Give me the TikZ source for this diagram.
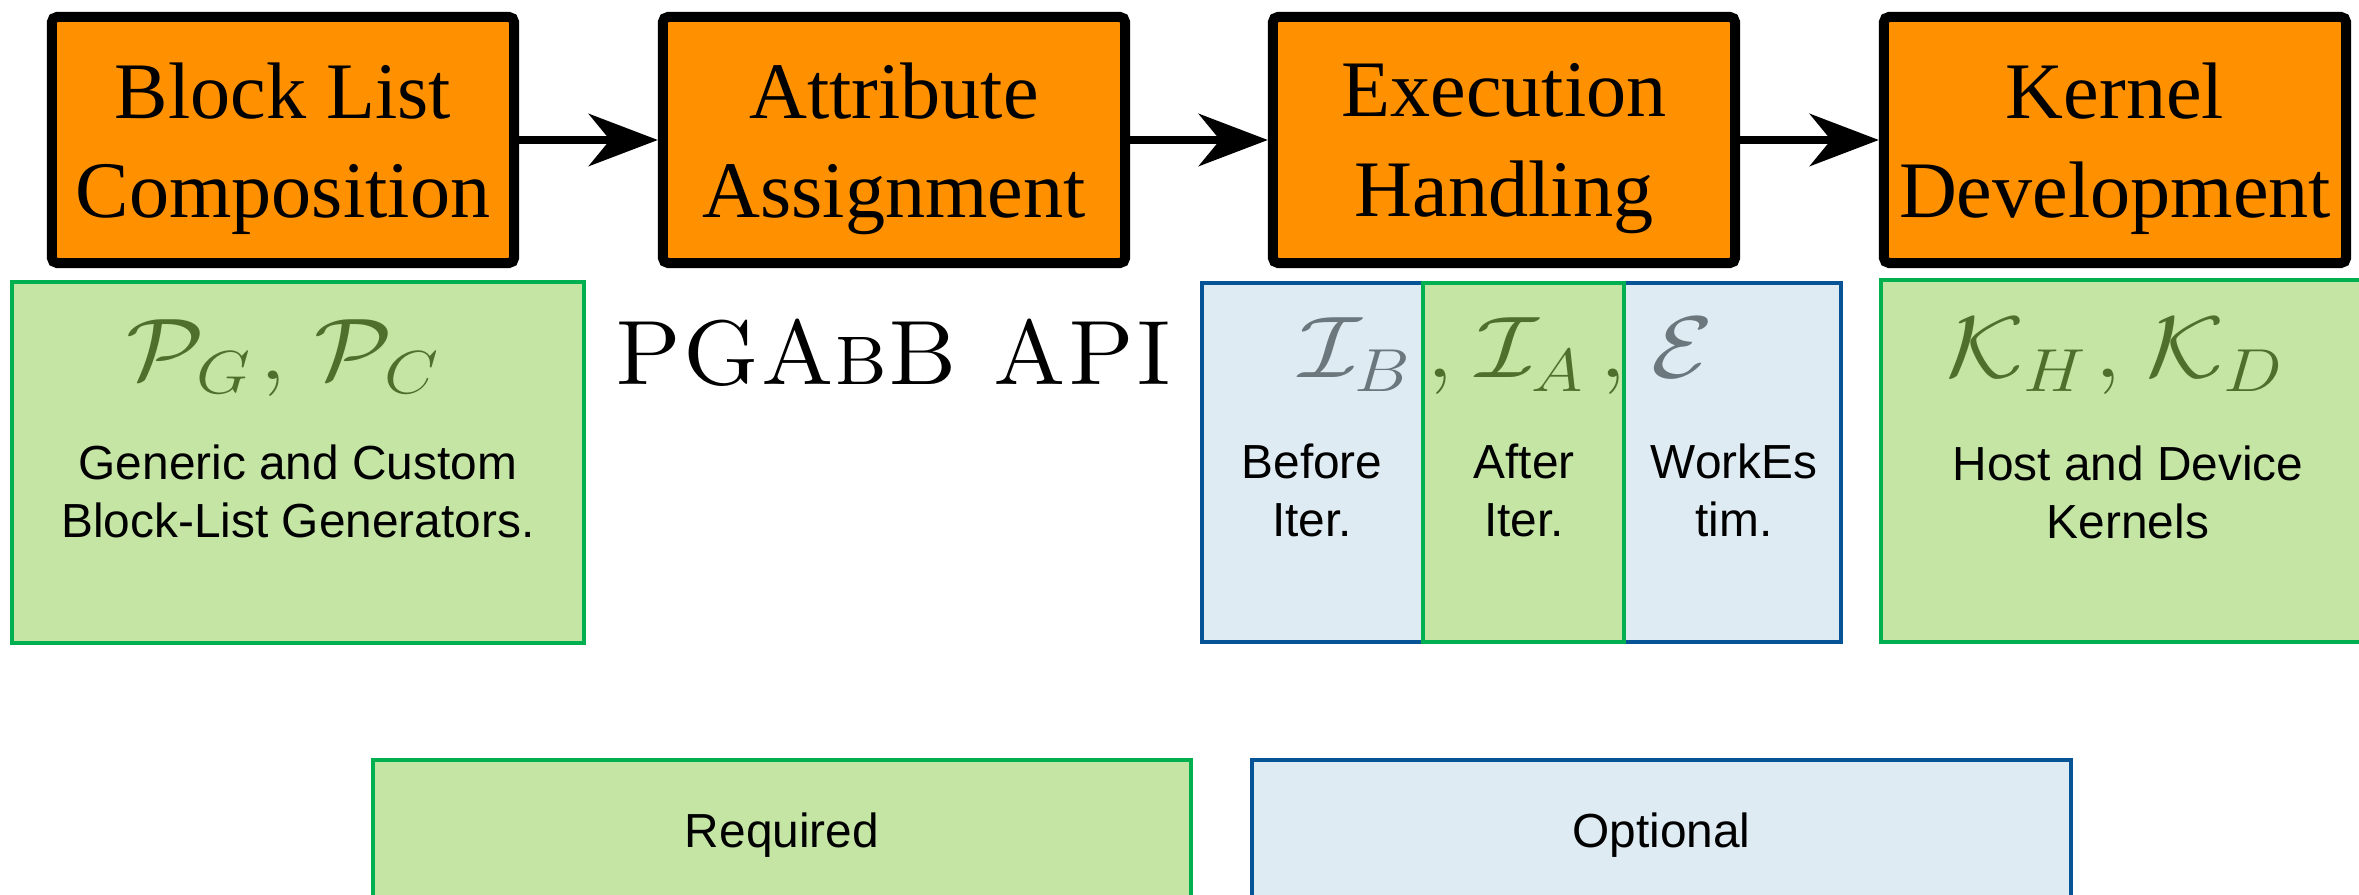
\documentclass[tikz,border=0pt]{standalone}
\usepackage{graphicx}
\usepackage{fontspec}
\newfontfamily\serifstage{Liberation Serif}
\newfontfamily\sanslabel{Liberation Sans}
\usetikzlibrary{arrows.meta}

\definecolor{stageorange}{RGB}{255,145,0}
\definecolor{reqfill}{RGB}{197,229,165}
\definecolor{reqborder}{RGB}{0,176,80}
\definecolor{optfill}{RGB}{223,235,243}
\definecolor{optborder}{RGB}{6,84,150}
\definecolor{mathgreen}{RGB}{79,112,45}
\definecolor{mathgrey}{RGB}{108,119,125}

% symbols are set slightly wide
\newcommand{\widesym}[1]{\scalebox{1.15}[1]{$#1$}}

\tikzset{
  stage/.style={draw=black, line width=2.85pt, fill=stageorange, rounded corners=1.5pt,
    minimum width=4.62cm, minimum height=2.46cm, inner sep=0pt, align=center,
    text depth=0pt, font=\serifstage\fontsize{22.8pt}{28.2pt}\selectfont},
  flow/.style={line width=2.5pt, -{Stealth[length=19.6pt, width=14.8pt, inset=6pt]}},
  panel/.style={line width=1.14pt, inner sep=0pt, outer sep=0pt},
  reqpanel/.style={panel, draw=reqborder, fill=reqfill},
  optpanel/.style={panel, draw=optborder, fill=optfill},
  labeltext/.style={align=center, inner sep=0pt,
    font=\sanslabel\fontsize{13.6pt}{16.5pt}\selectfont},
  mathtext/.style={inner sep=0pt, anchor=base west, font=\fontsize{27pt}{31pt}\selectfont},
  reqsym/.style={mathtext, text=mathgreen},
  optsym/.style={mathtext, text=mathgrey},
}

\begin{document}
\begin{tikzpicture}[x=0.01cm, y=-0.01cm]
  \useasboundingbox (0,0) rectangle (2359,895);
  \clip (0,0) rectangle (2359,895);

  % pipeline stages
  \node[stage] (s1) at (283,140)  {Block List\\Composition};
  \node[stage] (s2) at (894,140)  {Attribute\\Assignment};
  \node[stage] (s3) at (1504,140) {Execution\\Handling};
  \node[stage] (s4) at (2115,140) {Kernel\\Development};

  \draw[flow] (s1) -- (s2);
  \draw[flow] (s2) -- (s3);
  \draw[flow] (s3) -- (s4);

  % panels under the stages
  \node[reqpanel, minimum width=5.72cm, minimum height=3.61cm] (pgen) at (298,462.5) {};
  \node[optpanel, minimum width=2.21cm, minimum height=3.59cm] (before) at (1312.5,462.5) {};
  \node[optpanel, minimum width=2.17cm, minimum height=3.59cm] (workes) at (1732.5,462.5) {};
  \node[reqpanel, minimum width=2.01cm, minimum height=3.59cm] (after) at (1523.5,462.5) {};
  \node[reqpanel, minimum width=5.20cm, minimum height=3.62cm] (kern) at (2141,461) {};

  % symbols
  \node[reqsym] (pg) at (126,380) {\widesym{\mathcal{P}_G}};
  \node[reqsym] (pc1) at (259,380) {\widesym{,}};
  \node[reqsym] (pc) at (314,380) {\widesym{\mathcal{P}_C}};

  \node[optsym] (ib) at (1299,378) {\widesym{\mathcal{I}_B}};
  \node[reqsym] (c1) at (1426,378) {\widesym{,}};
  \node[reqsym] (ia) at (1476,378) {\widesym{\mathcal{I}_A}};
  \node[reqsym] (c2) at (1599,378) {\widesym{,}};
  \node[optsym] (ee) at (1651,378) {\widesym{\mathcal{E}}};

  \node[reqsym] (kh) at (1946,378) {\widesym{\mathcal{K}_H}};
  \node[reqsym] (kc) at (2094,378) {\widesym{,}};
  \node[reqsym] (kd) at (2146,378) {\widesym{\mathcal{K}_D}};

  \node[mathtext] (api) at (614,385) {\fontsize{26pt}{30pt}\selectfont\textsc{PGAbB API}};

  % panel descriptions
  \node[labeltext, anchor=base] (gentext) at (298,538) {Generic and Custom\\Block-List Generators.};
  \node[labeltext, anchor=base] (beftext) at (1312,537) {Before\\Iter.};
  \node[labeltext, anchor=base] (afttext) at (1524,537) {After\\Iter.};
  \node[labeltext, anchor=base] (wrktext) at (1734,537) {WorkEs\\tim.};
  \node[labeltext, anchor=base] (kertext) at (2128,539) {Host and Device\\Kernels};

  % legend
  \node[reqpanel, minimum width=8.18cm, minimum height=1.90cm] (required) at (782,855) {};
  \node[optpanel, minimum width=8.19cm, minimum height=1.90cm] (optional) at (1661.5,855) {};
  \node[labeltext, anchor=base] (reqtext) at (782,848) {Required};
  \node[labeltext, anchor=base] (opttext) at (1661.5,848) {Optional};
\end{tikzpicture}
\end{document}
